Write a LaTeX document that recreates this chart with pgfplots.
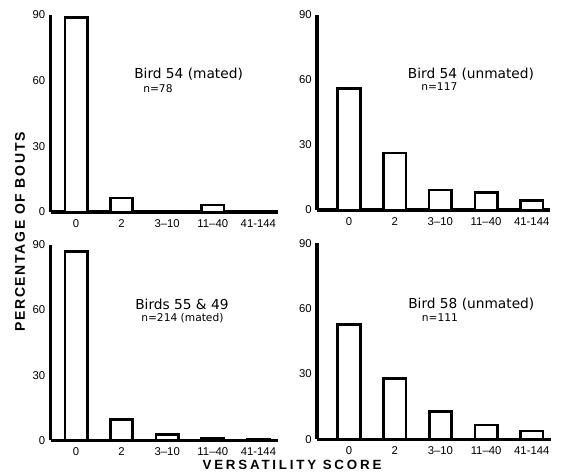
\documentclass[border=0pt]{standalone}
\usepackage{fontspec}
\setmainfont{Liberation Sans}
\newfontfamily\titlefont{DejaVu Sans}
\newfontfamily\xlabfont{Liberation Sans}[LetterSpace=21]
\newfontfamily\ylabfont{Liberation Sans}[LetterSpace=12]
\usepackage{pgfplots}
\pgfplotsset{compat=1.18}

\pgfplotsset{birdpanel/.style={
  scale only axis, anchor=south west, clip=false,
  ymin=0, ymax=90, ytick={0,30,60,90}, yticklabels={0,30,60,90},
  xtick={0,1,2,3,4}, xticklabels={0,2,3--10,11--40,41-144},
  axis x line=bottom, axis y line=left,
  axis line style={line width=2.5pt,-},
  major tick length=0pt,
  tick label style={font=\fontsize{8.5}{9}\selectfont},
  xticklabel style={yshift=-2pt},
  yticklabel style={xshift=-0.5pt},
  ybar, bar width=0.49,
}}
\tikzset{ttl/.style={anchor=west,inner sep=0pt,font=\titlefont\fontsize{10.3}{11}\selectfont},
  nn/.style={anchor=west,inner sep=0pt,font=\titlefont\fontsize{8}{9}\selectfont}}

\begin{document}
\begin{tikzpicture}
\useasboundingbox (0pt,0pt) rectangle (420.75pt,356.25pt);
% top left
\begin{axis}[birdpanel,at={(37.875pt,197.25pt)},width=170.25pt,height=147.75pt,xmin=-0.56,xmax=4.42]
\addplot[draw=black,fill=white,line width=2pt] coordinates {(0,89) (1,6.4) (2,0) (3,3.2) (4,0)};
\end{axis}
% top right
\begin{axis}[birdpanel,at={(237.75pt,198.75pt)},width=174.75pt,height=146.25pt,xmin=-0.7,xmax=4.4]
\addplot[draw=black,fill=white,line width=2pt] coordinates {(0,56) (1,26.3) (2,9.2) (3,8.2) (4,4.3)};
\end{axis}
% bottom left
\begin{axis}[birdpanel,at={(37.875pt,25.875pt)},width=171pt,height=147pt,xmin=-0.56,xmax=4.44]
\addplot[draw=black,fill=white,line width=2pt] coordinates {(0,86.7) (1,9.5) (2,2.9) (3,1.0) (4,0.7)};
\end{axis}
% bottom right
\begin{axis}[birdpanel,at={(237.75pt,26.775pt)},width=175.5pt,height=147pt,xmin=-0.7,xmax=4.42]
\addplot[draw=black,fill=white,line width=2pt] coordinates {(0,52.8) (1,28) (2,12.7) (3,6.6) (4,3.8)};
\end{axis}
\node[ttl] at (100.5pt,300.75pt) {Bird 54 (mated)};
\node[nn] at (107.25pt,289.5pt) {n=78};
\node[ttl] at (305.775pt,300.75pt) {Bird 54 (unmated)};
\node[nn] at (315.75pt,291pt) {n=117};
\node[ttl] at (101.25pt,128.25pt) {Birds 55 \& 49};
\node[nn] at (105.75pt,117.75pt) {n=214 (mated)};
\node[ttl] at (306pt,128.25pt) {Bird 58 (unmated)};
\node[nn] at (316.275pt,117.75pt) {n=111};
\node[rotate=90,inner sep=0pt,font=\ylabfont\bfseries\fontsize{10.5}{11}\selectfont] at (15pt,182.25pt) {PERCENTAGE OF BOUTS};
\node[inner sep=0pt,font=\xlabfont\bfseries\fontsize{10}{11}\selectfont] at (219pt,7.5pt) {VERSATILITY SCORE};
\end{tikzpicture}
\end{document}
